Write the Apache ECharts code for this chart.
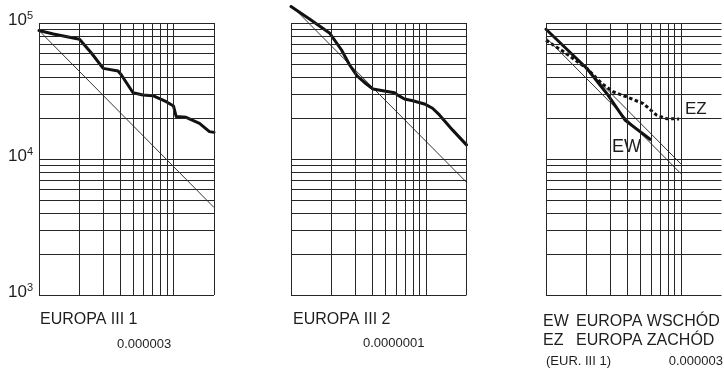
<!DOCTYPE html>
<html>
<head>
<meta charset="utf-8">
<script src="https://cdn.jsdelivr.net/npm/echarts@6/dist/echarts.min.js"></script>
<style>
  html, body { margin: 0; padding: 0; background: #fff; }
  #chart { width: 724px; height: 370px; }
</style>
</head>
<body>
<div id="chart"></div>
<script>
// Log-log grid positions (x: 1..10 plus the right edge at 20; y: 10^3..10^5)
const xGridValues = [1, 2, 3, 4, 5, 6, 7, 8, 9, 10];
const xEdge = 20;
const yGridValues = [1000, 2000, 3000, 4000, 5000, 6000, 7000, 8000, 9000,
  10000, 20000, 30000, 40000, 50000, 60000, 70000, 80000, 90000, 100000];

// EUROPA III 1
const eu1X = [1, 1.28, 2, 2.46, 3, 3.87, 4.1, 5, 5.93, 7.03, 8.83, 10, 10.47, 12.4, 15.6, 18.5, 20];
const eu1Y = [88000, 83000, 75900, 59900, 46400, 44400, 41500, 30700, 29550, 29200, 26400, 24500, 20500, 20250, 18300, 15900, 15700];
const ref1X = [1, 20];
const ref1Y = [88000, 4400];

// EUROPA III 2
const eu2X = [1, 1.38, 1.94, 2.37, 2.72, 3.09, 3.62, 4.05, 4.8, 5.86, 6.19, 6.94, 8.0, 9.75, 11.2, 12.6, 15.8, 20];
const eu2Y = [132000, 106400, 84000, 63300, 49100, 40800, 35600, 32700, 31800, 30700, 29500, 27600, 26800, 25400, 23600, 21100, 16300, 12700];
const ref2X = [1, 20];
const ref2Y = [135000, 6750];

// EW / EZ (EUR. III 1)
const ewX = [1, 2.02, 2.83, 3.87, 5.91];
const ewY = [90000, 46100, 30200, 19250, 13960];
const ezX = [1, 1.36, 2.02, 2.6, 3.17, 3.97, 5.27, 6.61, 7.83, 9.7];
const ezY = [74600, 61200, 46100, 35800, 31100, 28600, 25500, 21000, 19800, 19700];
const refEwX = [1, 10];
const refEwY = [92000, 9200];
const refEzX = [1, 10];
const refEzY = [78000, 7800];

const FONT = '"Liberation Sans", Arial, Helvetica, sans-serif';
const INK = '#1e1e1e';

const zip = (xs, ys) => xs.map((x, i) => [x, ys[i]]);

function gridLines(withEdge) {
  const xs = withEdge ? xGridValues.concat([xEdge]) : xGridValues;
  return {
    silent: true,
    symbol: 'none',
    label: { show: false },
    lineStyle: { color: '#262626', width: 1, type: 'solid' },
    emphasis: { disabled: true },
    data: xs.map(v => ({ xAxis: v })).concat(yGridValues.map(v => ({ yAxis: v })))
  };
}

function thin(idx, xs, ys, marks) {
  const s = {
    type: 'line', xAxisIndex: idx, yAxisIndex: idx,
    data: zip(xs, ys), symbol: 'none', clip: false, silent: true,
    lineStyle: { color: INK, width: 0.9 }, z: 3
  };
  if (marks) s.markLine = marks;
  return s;
}

function thick(idx, xs, ys, dashed) {
  return {
    type: 'line', xAxisIndex: idx, yAxisIndex: idx,
    data: zip(xs, ys), symbol: 'none', clip: false, silent: true,
    lineStyle: {
      color: '#111', width: 3,
      type: dashed ? [3.5, 2.5] : 'solid',
      cap: dashed ? 'butt' : 'round', join: 'round'
    },
    z: 4
  };
}

const grids = [
  { left: 39, top: 23, width: 175, height: 272 },
  { left: 291, top: 23, width: 175.5, height: 272 },
  { left: 546, top: 23, width: 175.5, height: 272 }
];

const xAxes = grids.map((g, i) => ({
  type: 'log', logBase: 10, gridIndex: i, min: 1, max: xEdge,
  axisLine: { show: false }, axisTick: { show: false },
  axisLabel: { show: false }, splitLine: { show: false }
}));

const yAxes = grids.map((g, i) => ({
  type: 'log', logBase: 10, gridIndex: i, min: 1000, max: 100000,
  axisLine: { show: false }, axisTick: { show: false },
  splitLine: { show: false },
  axisLabel: i === 0 ? {
    show: true, margin: 6, padding: [0, 0, 5, 0],
    formatter: v => '{b|10}{s|' + Math.round(Math.log10(v)) + '}',
    rich: {
      b: { fontFamily: FONT, fontSize: 17, color: INK, lineHeight: 20 },
      s: { fontFamily: FONT, fontSize: 11, color: INK, verticalAlign: 'top', lineHeight: 11 }
    }
  } : { show: false }
}));

function label(x, y, text, size, align) {
  return {
    type: 'text', x: x, y: y, silent: true,
    style: {
      text: text, fill: INK, font: size + 'px ' + FONT,
      align: align || 'left', verticalAlign: 'middle'
    }
  };
}

const option = {
  backgroundColor: '#fff',
  animation: false,
  grid: grids,
  xAxis: xAxes,
  yAxis: yAxes,
  series: [
    thin(0, ref1X, ref1Y, gridLines(true)),
    thick(0, eu1X, eu1Y, false),
    thin(1, ref2X, ref2Y, gridLines(true)),
    thick(1, eu2X, eu2Y, false),
    thin(2, refEwX, refEwY, gridLines(false)),
    thin(2, refEzX, refEzY),
    thick(2, ewX, ewY, false),
    thick(2, ezX, ezY, true)
  ],
  graphic: [
    label(40, 320, 'EUROPA III 1', 16),
    label(117, 344, '0.000003', 13),
    label(293, 320, 'EUROPA III 2', 16),
    label(363, 343, '0.0000001', 13),
    label(543, 322, 'EW', 16),
    label(576, 322, 'EUROPA WSCHÓD', 16),
    label(543, 341, 'EZ', 16),
    label(576, 341, 'EUROPA ZACHÓD', 16),
    label(546, 361, '(EUR. III 1)', 13),
    label(723, 361, '0.000003', 13, 'right'),
    label(612, 147, 'EW', 18),
    label(685, 109, 'EZ', 17)
  ]
};

const chart = echarts.init(document.getElementById('chart'), null, { renderer: 'canvas' });
chart.setOption(option);
</script>
</body>
</html>
